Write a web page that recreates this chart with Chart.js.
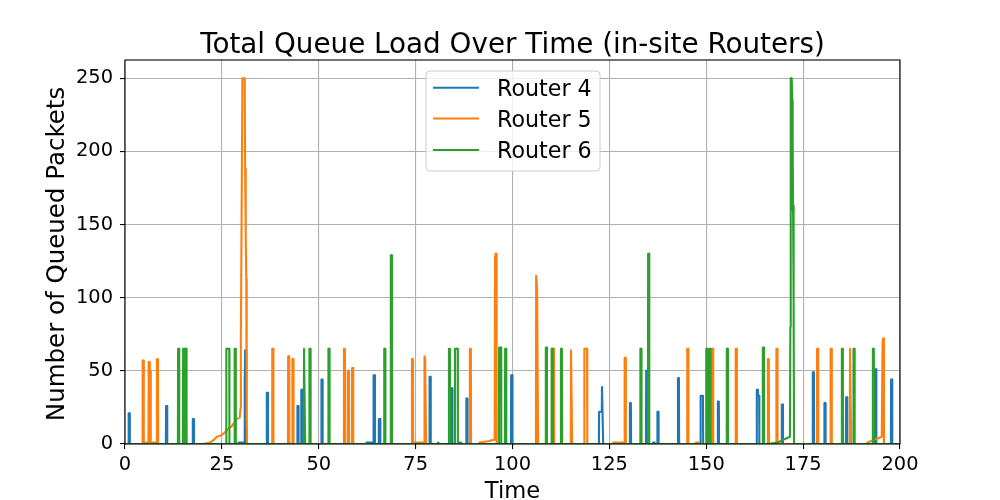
<!DOCTYPE html>
<html>
<head>
<meta charset="utf-8">
<script src="https://cdn.jsdelivr.net/npm/chart.js@4/dist/chart.umd.min.js"></script>
<style>
html,body{margin:0;padding:0;background:#fff;}
#wrap{width:1000px;height:500px;}
</style>
</head>
<body>
<div id="wrap"><canvas id="c" width="1000" height="500"></canvas></div>
<script>
// ---- Data (time, queued packets) ----
const seriesNames = ['Router 4', 'Router 5', 'Router 6'];
const seriesColors = ['#1f77b4', '#ff7f0e', '#2ca02c'];
const xTicks = [0, 25, 50, 75, 100, 125, 150, 175, 200];
const yTicks = [0, 50, 100, 150, 200, 250];

const router4 = [
  [0,0],[0.9,0],[0.95,21],[1.2,21],[1.25,0],
  [6.15,0],[6.2,33],[6.4,33],[6.45,0],
  [10.55,0],[10.6,26],[10.85,26],[10.9,0],
  [17.45,0],[17.5,17],[17.75,17],[17.8,0],
  [29.2,0],[29.3,1],[30.8,1],[30.9,44],[31.0,64],[31.25,64],[31.3,0],
  [36.55,0],[36.6,35],[36.85,35],[36.9,0],
  [44.45,0],[44.5,26],[44.75,26],[44.8,0],
  [45.45,0],[45.5,37],[45.75,37],[45.8,0],
  [50.65,0],[50.7,44],[50.95,44],[51.0,0],
  [62.2,0],[62.3,1],[64.1,1],[64.15,47],[64.45,47],[64.5,0],
  [65.45,0],[65.5,17],[65.85,17],[65.9,0],
  [78.55,0],[78.6,46],[78.85,46],[78.9,0],
  [80.7,0],[80.8,1],[81.0,1],[81.1,0],
  [84.15,0],[84.2,38],[84.45,38],[84.5,0],
  [86.3,0],[86.4,1],[86.6,1],[86.7,0],
  [88.05,0],[88.1,31],[88.35,31],[88.4,0],
  [99.6,0],[99.65,47],[99.95,47],[100.0,0],
  [122.3,0],[122.35,22],[123.05,22],[123.1,39],[123.35,39],[123.4,0],
  [130.25,0],[130.3,28],[130.55,28],[130.6,0],
  [134.45,0],[134.5,50],[134.75,50],[134.8,0],
  [136.2,0],[136.3,1],[136.6,1],[136.7,0],
  [137.35,0],[137.4,22],[137.65,22],[137.7,0],
  [142.65,0],[142.7,45],[142.95,45],[143.0,0],
  [148.5,0],[148.55,33],[149.15,33],[149.2,0],
  [152.95,0],[153.0,29],[153.25,29],[153.3,0],
  [163.0,0],[163.05,37],[163.3,37],[163.35,33],[163.65,33],[163.7,0],
  [169.45,0],[169.5,27],[169.75,27],[169.8,0],
  [177.45,0],[177.5,49],[177.75,49],[177.8,0],
  [180.45,0],[180.5,28],[180.75,28],[180.8,0],
  [186.05,0],[186.1,32],[186.35,32],[186.4,0],
  [193.55,0],[193.6,51],[193.85,51],[193.9,0],
  [197.65,0],[197.7,44],[197.95,44],[198.0,0],
  [200,0]
];

const router5 = [
  [0,0],[4.5,0],[4.55,57],[4.8,57],[4.85,1],[6.05,1],[6.1,56],[6.3,56],[6.35,1],[6.45,50],[6.6,50],[6.65,1],[8.2,1],[8.25,58],[8.5,58],[8.55,0],
  [20.2,0],[21.9,1],[23.0,3],[23.7,5],[24.9,6],[25.8,8],[26.5,10],[27.5,12],[28.3,15],[28.8,17],[29.6,18],[29.8,24],[29.9,72],[30.1,158],[30.3,250],[30.9,250],[31.0,188],[31.1,170],[31.2,145],[31.3,113],[31.4,20],[31.5,0],
  [37.95,0],[38.0,65],[38.25,65],[38.3,0],
  [42.05,0],[42.1,60],[42.35,60],[42.4,0],
  [43.15,0],[43.2,58],[43.45,58],[43.5,0],
  [56.45,0],[56.5,65],[56.75,65],[56.8,0],
  [57.45,0],[57.5,50],[57.75,50],[57.8,0],
  [58.55,0],[58.6,52],[58.85,52],[58.9,0],
  [74.0,0],[74.05,58],[74.3,58],[74.35,1],[77.25,1],[77.3,60],[77.45,58],[77.65,58],[77.7,0],
  [88.95,0],[89.0,65],[89.25,65],[89.3,0],
  [91.4,0],[91.5,1],[94.0,2],[95.4,3],[95.5,128],[95.6,130],[95.85,130],[95.9,0],
  [106.05,0],[106.1,115],[106.3,115],[106.35,106],[106.55,106],[106.6,0],
  [110.4,0],[110.45,65],[110.7,65],[110.75,0],
  [115.05,0],[115.1,64],[115.35,64],[115.4,0],
  [118.5,0],[118.55,65],[119.25,65],[119.3,0],
  [125.9,0],[126.0,1],[128.9,1],[128.95,59],[129.2,59],[129.25,0],
  [145.05,0],[145.1,65],[145.35,65],[145.4,0],
  [147.2,0],[147.3,1],[148.0,1],[148.1,0],
  [151.45,0],[151.5,65],[151.75,65],[151.8,0],
  [157.55,0],[157.6,65],[157.85,65],[157.9,0],
  [165.85,0],[165.9,58],[166.15,58],[166.2,0],
  [168.05,0],[168.1,65],[168.35,65],[168.4,0],
  [178.55,0],[178.6,65],[178.85,65],[178.9,0],
  [182.05,0],[182.1,65],[182.35,65],[182.4,0],
  [187.05,0],[187.1,65],[187.35,65],[187.4,0],
  [191.4,0],[191.6,1],[192.5,2],[193.5,3],[195.3,5],[195.5,70],[195.6,72],[195.8,72],[195.85,0],
  [200,0]
];

const router6 = [
  [0,0],[13.65,0],[13.7,65],[13.95,65],[14.0,0],
  [14.95,0],[15.0,65],[15.25,65],[15.3,0],
  [15.55,0],[15.6,65],[15.85,65],[15.9,0],
  [26.1,0],[26.15,65],[26.9,65],[26.95,0],
  [28.25,0],[28.3,65],[28.55,65],[28.6,0],
  [46.15,0],[46.2,65],[46.45,65],[46.5,0],
  [47.55,0],[47.6,65],[47.85,65],[47.9,0],
  [52.45,0],[52.5,65],[52.75,65],[52.8,0],
  [66.85,0],[66.9,65],[67.15,65],[67.2,0],
  [68.55,0],[68.6,129],[68.85,129],[68.9,0],
  [83.55,0],[83.6,65],[83.85,65],[83.9,0],
  [85.1,0],[85.15,65],[85.85,65],[85.9,0],
  [96.5,0],[96.55,66],[97.05,66],[97.1,0],
  [98.05,0],[98.1,65],[98.35,65],[98.4,0],
  [108.55,0],[108.6,66],[108.85,66],[108.9,0],
  [110.05,0],[110.1,65],[110.35,65],[110.4,0],
  [112.45,0],[112.5,65],[112.75,65],[112.8,0],
  [132.95,0],[133.0,65],[133.25,65],[133.3,0],
  [134.95,0],[135.0,130],[135.25,130],[135.3,0],
  [149.95,0],[150.0,65],[150.25,65],[150.3,0],
  [150.75,0],[150.8,65],[151.05,65],[151.1,0],
  [155.25,0],[155.3,65],[155.55,65],[155.6,0],
  [164.55,0],[164.6,66],[164.85,66],[164.9,0],
  [166.0,0],[168.4,1],[170.0,3],[171.6,5],[171.7,80],[171.8,250],[171.95,250],[172.0,160],[172.1,250],[172.2,235],[172.3,208],[172.4,163],[172.5,101],[172.6,98],[172.65,0],
  [184.95,0],[185.0,65],[185.25,65],[185.3,0],
  [187.95,0],[188.0,65],[188.25,65],[188.3,0],
  [192.95,0],[193.0,65],[193.25,65],[193.3,0],
  [200,0]
];

const chartTitle = 'Total Queue Load Over Time (in-site Routers)';
const xTitle = 'Time';
const yTitle = 'Number of Queued Packets';

// ---- Chart ----
const FONT = "'DejaVu Sans', sans-serif";
const allSeries = [router4, router5, router6];

const datasets = allSeries.map((s, i) => ({
  label: seriesNames[i],
  data: s.map(p => ({x: p[0], y: p[1]})),
  borderColor: seriesColors[i],
  backgroundColor: seriesColors[i],
  borderWidth: 2.1,
  pointRadius: 0,
  tension: 0,
  fill: false,
  borderJoinStyle: 'round',
  order: 2 - i
}));

const decorPlugin = {
  id: 'decor',
  afterDatasetsDraw(chart) {
    const ctx = chart.ctx, a = chart.chartArea;
    ctx.save();
    ctx.strokeStyle = '#000';
    ctx.lineWidth = 1.1;
    ctx.strokeRect(a.left, a.top, a.right - a.left, a.bottom - a.top);
    ctx.restore();
  },
  afterDraw(chart) {
    const ctx = chart.ctx, a = chart.chartArea;
    const cx = (a.left + a.right) / 2;
    ctx.save();
    ctx.fillStyle = '#000';
    // Title
    ctx.font = '27.8px ' + FONT;
    ctx.textAlign = 'center';
    ctx.textBaseline = 'alphabetic';
    ctx.fillText(chartTitle, cx, 52.5);
    // X title
    ctx.font = '22.6px ' + FONT;
    ctx.fillText(xTitle, cx, 497.5);
    // Y title
    ctx.save();
    ctx.font = '24.5px ' + FONT;
    ctx.translate(63.5, 254);
    ctx.rotate(-Math.PI / 2);
    ctx.fillText(yTitle, 0, 0);
    ctx.restore();
    // Legend
    const lx = 426, ly = 71, lw = 174, lh = 100, r = 4;
    ctx.beginPath();
    ctx.moveTo(lx + r, ly);
    ctx.arcTo(lx + lw, ly, lx + lw, ly + lh, r);
    ctx.arcTo(lx + lw, ly + lh, lx, ly + lh, r);
    ctx.arcTo(lx, ly + lh, lx, ly, r);
    ctx.arcTo(lx, ly, lx + lw, ly, r);
    ctx.closePath();
    ctx.fillStyle = 'rgba(255,255,255,0.8)';
    ctx.fill();
    ctx.strokeStyle = '#cccccc';
    ctx.lineWidth = 1;
    ctx.stroke();
    const rows = [87.7, 118.5, 150];
    ctx.font = '22.2px ' + FONT;
    ctx.textAlign = 'left';
    chart.data.datasets.forEach((ds, i) => {
      const y = rows[i];
      ctx.strokeStyle = ds.borderColor;
      ctx.lineWidth = 2.1;
      ctx.beginPath();
      ctx.moveTo(433, y);
      ctx.lineTo(479, y);
      ctx.stroke();
      ctx.fillStyle = '#000';
      ctx.fillText(ds.label, 497, y + 8.1);
    });
    ctx.restore();
  }
};

new Chart(document.getElementById('c'), {
  type: 'line',
  data: { datasets },
  options: {
    responsive: false,
    animation: false,
    devicePixelRatio: 1,
    layout: { padding: { top: 60, right: 100, left: 0, bottom: 0 } },
    plugins: { legend: { display: false }, title: { display: false }, tooltip: { enabled: false } },
    scales: {
      x: {
        type: 'linear',
        min: 0, max: 200,
        afterBuildTicks: s => { s.ticks = xTicks.map(v => ({value: v})); },
        afterFit: s => { s.height = 56; },
        grid: { color: '#b0b0b0', lineWidth: 1.1, tickColor: '#000', tickLength: 5, drawTicks: true },
        border: { display: false },
        ticks: { color: '#000', font: { family: FONT, size: 19.4 }, padding: 4, maxRotation: 0, autoSkip: false }
      },
      y: {
        type: 'linear',
        min: 0, max: 262.5,
        afterBuildTicks: s => { s.ticks = yTicks.map(v => ({value: v})); },
        afterFit: s => { s.width = 125; },
        grid: { color: '#b0b0b0', lineWidth: 1.1, tickColor: '#000', tickLength: 5, drawTicks: true },
        border: { display: false },
        ticks: { color: '#000', font: { family: FONT, size: 19.4 }, padding: 7, autoSkip: false }
      }
    }
  },
  plugins: [decorPlugin]
});
</script>
</body>
</html>
